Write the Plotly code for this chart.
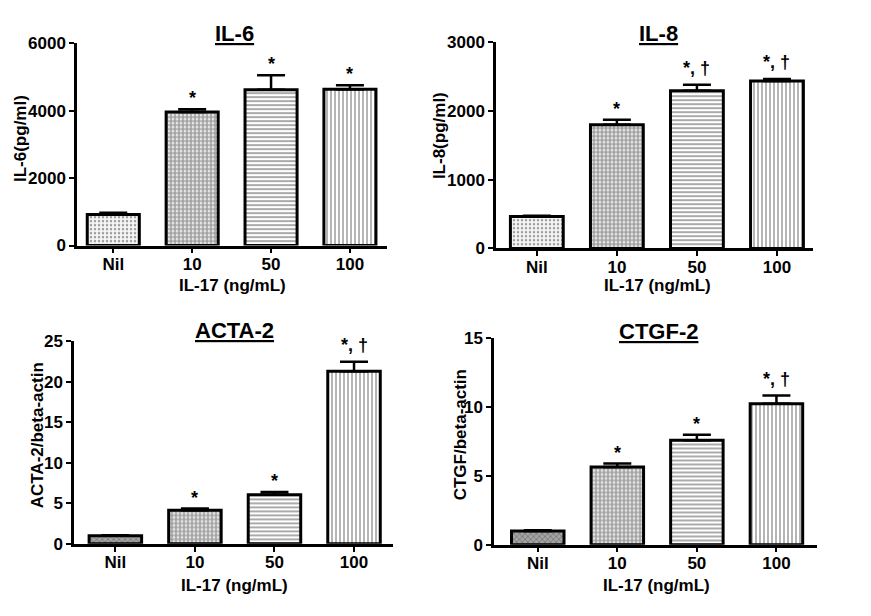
import plotly.graph_objects as go

# ---- data ----
categories = ["Nil", "10", "50", "100"]

il6 = [920, 3960, 4620, 4630]
il6_err = [50, 80, 430, 120]
il6_sig = ["", "*", "*", "*"]

il8 = [465, 1800, 2295, 2435]
il8_err = [10, 70, 85, 30]
il8_sig = ["", "*", "*, †", "*, †"]

acta2 = [1.0, 4.15, 6.05, 21.3]
acta2_err = [0.05, 0.2, 0.35, 1.2]
acta2_sig = ["", "*", "*", "*, †"]

ctgf = [1.0, 5.65, 7.6, 10.25]
ctgf_err = [0.05, 0.25, 0.4, 0.6]
ctgf_sig = ["", "*", "*", "*, †"]

# page is 871x616; the browser's default 8px body margin is left around the figure
W, H = 871, 616
OFF = 8
FW, FH = W - 2 * OFF, H - 2 * OFF
FONT = "Liberation Sans, Arial, sans-serif"


def px(x):
    return (x - OFF) / FW


def py(y):
    return (FH - (y - OFF)) / FH


panels = [
    dict(vals=il6, err=il6_err, sig=il6_sig, title="IL-6", ytitle="IL-6(pg/ml)",
         box=(77, 387, 35, 244), yr=[0, 6000], dt=2000, xr=[-0.46, 3.47],
         ytx=20, yty=134, tty=25, ttx=234, xtx=232, xty=285, nil="light"),
    dict(vals=il8, err=il8_err, sig=il8_sig, title="IL-8", ytitle="IL-8(pg/ml)",
         box=(496, 813, 34, 247), yr=[0, 3000], dt=1000, xr=[-0.51, 3.45],
         ytx=439, yty=131, tty=25, ttx=658, xtx=657, xty=285, nil="light"),
    dict(vals=acta2, err=acta2_err, sig=acta2_sig, title="ACTA-2", ytitle="ACTA-2/beta-actin",
         box=(74, 393, 343, 552), yr=[0, 25], dt=5, xr=[-0.52, 3.49],
         ytx=37, yty=440, tty=332, ttx=235, xtx=235, xty=595, nil="dark"),
    dict(vals=ctgf, err=ctgf_err, sig=ctgf_sig, title="CTGF-2", ytitle="CTGF/beta-actin",
         box=(494, 817, 340, 553), yr=[0, 15], dt=5, xr=[-0.55, 3.51],
         ytx=460, yty=440, tty=333, ttx=658, xtx=656, xty=595, nil="dark"),
]

fig = go.Figure()
annotations = []

for i, p in enumerate(panels, start=1):
    xa = "x" if i == 1 else f"x{i}"
    ya = "y" if i == 1 else f"y{i}"
    x0, x1, yt, yb = p["box"]
    if p["nil"] == "light":
        nil_bg, nil_fg, nil_shape, nil_size, nil_sol = "#f6f6f6", "#c4c4c4", ".", 4, 0.3
    else:
        nil_bg, nil_fg, nil_shape, nil_size, nil_sol = "#a4a4a4", "#666666", "x", 4, 0.35
    fig.add_trace(go.Bar(
        x=[0, 1, 2, 3], y=p["vals"], xaxis=xa, yaxis=ya,
        marker=dict(
            color=[nil_bg, "#ffffff", "#ffffff", "#ffffff"],
            line=dict(color="black", width=3),
            pattern=dict(
                shape=[nil_shape, ".", "-", "|"],
                fgcolor=[nil_fg, "#000000", "#8c8c8c", "#8c8c8c"],
                size=[nil_size, 4, 4, 4],
                solidity=[nil_sol, 0.72, 0.45, 0.4],
            ),
        ),
        error_y=dict(type="data", symmetric=False, array=p["err"],
                     arrayminus=[0] * len(p["err"]), color="black",
                     thickness=2.5, width=14),
        showlegend=False,
    ))
    axis_common = dict(showline=True, linecolor="black", linewidth=2.5,
                       ticks="outside", ticklen=5, tickwidth=2, tickcolor="black",
                       showgrid=False, zeroline=False,
                       tickfont=dict(family=FONT, size=17, color="black", weight="bold"))
    fig.update_layout({
        ("xaxis" if i == 1 else f"xaxis{i}"): dict(
            axis_common, domain=[px(x0), px(x1)], anchor=ya, range=p["xr"],
            tickmode="array", tickvals=[0, 1, 2, 3], ticktext=categories,
            ticklabelstandoff=-4),
        ("yaxis" if i == 1 else f"yaxis{i}"): dict(
            axis_common, domain=[py(yb), py(yt)], anchor=xa,
            range=p["yr"], dtick=p["dt"], tick0=0),
    })
    annotations.append(dict(text="<u><b>" + p["title"] + "</b></u>", x=px(p["ttx"]),
                            y=py(p["tty"]), xref="paper", yref="paper",
                            showarrow=False, font=dict(family=FONT, size=22, color="black"),
                            xanchor="center", yanchor="middle"))
    annotations.append(dict(text="<b>" + p["ytitle"] + "</b>", x=px(p["ytx"]),
                            y=py(p["yty"]), xref="paper", yref="paper", textangle=-90,
                            showarrow=False, font=dict(family=FONT, size=17, color="black"),
                            xanchor="center", yanchor="middle"))
    annotations.append(dict(text="<b>IL-17 (ng/mL)</b>", x=px(p["xtx"]),
                            y=py(p["xty"]), xref="paper", yref="paper",
                            showarrow=False, font=dict(family=FONT, size=17, color="black"),
                            xanchor="center", yanchor="middle"))
    for k, (v, e, s) in enumerate(zip(p["vals"], p["err"], p["sig"])):
        if s:
            annotations.append(dict(text="<b>" + s + "</b>", x=k, y=v + e, xref=xa, yref=ya,
                                    showarrow=False, xanchor="center", yanchor="bottom",
                                    yshift=5 if "†" in s else -1,
                                    font=dict(family=FONT, size=18, color="#000000")))

fig.update_layout(width=FW, height=FH, margin=dict(l=0, r=0, t=0, b=0),
                  paper_bgcolor="white", plot_bgcolor="white",
                  bargap=0.34, annotations=annotations)

fig.write_html("out.html")
